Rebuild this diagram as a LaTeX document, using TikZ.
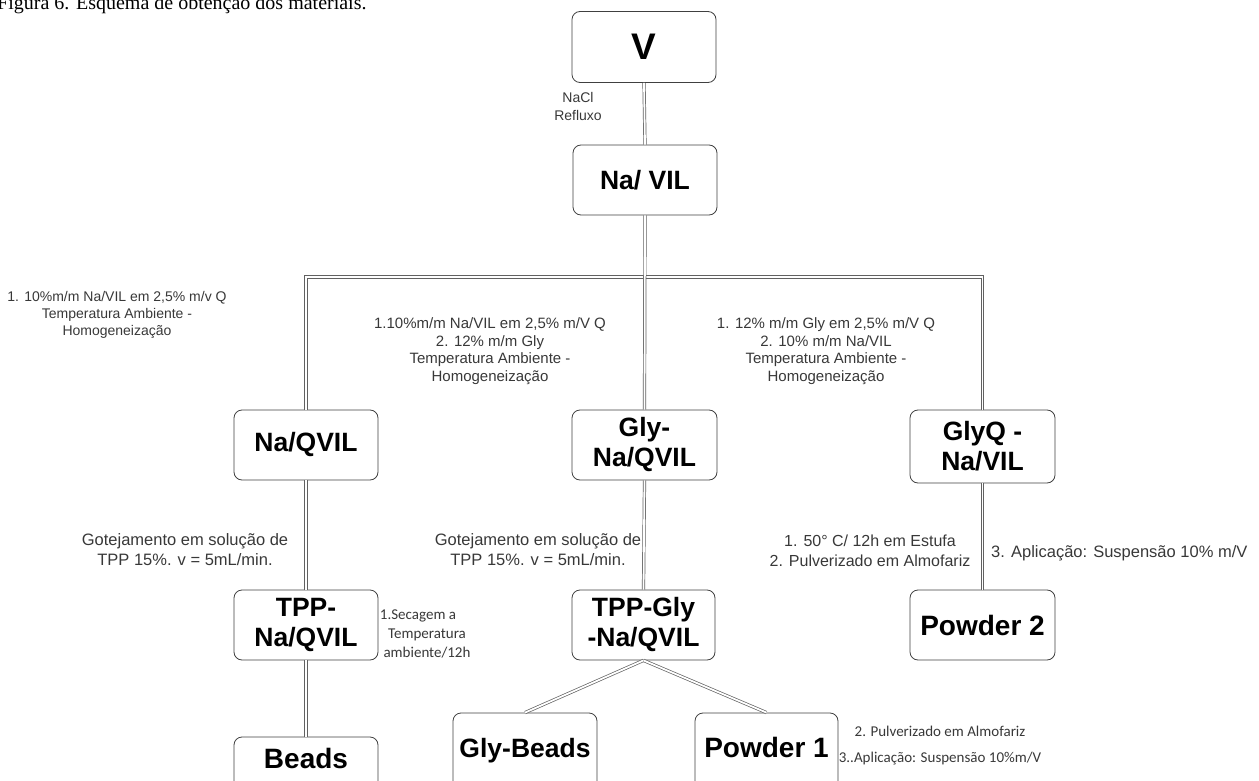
\documentclass[tikz,border=0pt]{standalone}
\usepackage{fontspec}
\setmainfont{Liberation Sans}
\newfontfamily\capfont{Liberation Serif}
\newfontfamily\calfont{Carlito}
\begin{document}
\begin{tikzpicture}[x=1pt,y=-1pt,
  box/.style={draw=black!75, line width=0.8pt, rounded corners=8pt, fill=white,
    font=\fontsize{26.5}{30}\selectfont\bfseries, align=center,
    minimum width=144pt, minimum height=70pt, inner sep=0pt},
  openbox/.style={box, minimum height=0pt, text height=31pt, text depth=45pt},
  lbl/.style={font=\fontsize{15}{17.5}\selectfont, text=black!78, align=center, inner sep=0pt},
  cal/.style={font=\calfont\fontsize{15}{19}\selectfont, text=black!78, align=center, inner sep=0pt},
  conn/.style={draw=black!62, line width=0.7pt, double=white, double distance=1.8pt}
]
\useasboundingbox (0,0) rectangle (1259,781);
\clip (0,0) rectangle (1259,781);

% caption (cut at top, as in the reference)
\node[anchor=base west, inner sep=0pt, font=\capfont\fontsize{20}{24}\selectfont] (cap) at (-3,10)
  {Figura 6. Esquema de obtenção dos materiais.};

% boxes
\node[box, minimum height=71pt, font=\fontsize{37}{40}\selectfont\bfseries] (v) at (644,47) {V};
\node[box] (navil) at (645,180) {Na/ VIL};
\node[box] (naq) at (306,445) {Na/QVIL};
\node[box, minimum width=145pt] (glynaq) at (644.5,445) {Gly-\\Na/QVIL};
\node[box, minimum width=145pt, minimum height=73pt] (glyq) at (982.5,446.5) {GlyQ -\\Na/VIL};
\node[box] (tppnaq) at (306,625) {TPP-\\Na/QVIL};
\node[box, minimum width=143pt] (tppgly) at (643.5,625) {TPP-Gly\\-Na/QVIL};
\node[box, minimum width=145pt, font=\fontsize{28}{30}\selectfont\bfseries] (powder2) at (982.5,625) {Powder 2};
\node[openbox, anchor=base, font=\fontsize{28}{30}\selectfont\bfseries] (beads) at (306,768) {Beads};
\node[openbox, anchor=base, text height=44pt] (glybeads) at (525,757) {Gly-Beads};
\node[openbox, anchor=base, text height=44pt, minimum width=143pt, font=\fontsize{28}{30}\selectfont\bfseries] (powder1) at (766.5,757) {Powder 1};

% connectors
\coordinate (bus) at (645,277);
\draw[conn] (v.south) -- (navil.north);
\draw[conn] (naq.north) |- (bus) -| (glyq.north);
\draw[conn] (navil.south) -- (glynaq.north);
\draw[conn] (naq.south) -- (tppnaq.north);
\draw[conn] (glynaq.south) -- (tppgly.north);
\draw[conn] (glyq.south) -- (powder2.north);
\draw[conn] (tppnaq.south) -- (beads.north);
\draw[conn] (tppgly.south) -- (glybeads.north);
\draw[conn] (tppgly.south) -- (powder1.north);

% labels
\node[lbl, font=\fontsize{14}{18}\selectfont] (l0) at (578,106) {NaCl\\Refluxo};
\node[lbl, font=\fontsize{14}{17}\selectfont] (l1) at (117,315) {1. 10\%m/m Na/VIL em 2,5\% m/v Q\\Temperatura Ambiente -\\Homogeneização};
\node[lbl] (l2) at (490,351) {1.10\%m/m Na/VIL em 2,5\% m/V Q\\2. 12\% m/m Gly\\Temperatura Ambiente -\\Homogeneização};
\node[lbl] (l3) at (826,351) {1. 12\% m/m Gly em 2,5\% m/V Q\\2. 10\% m/m Na/VIL\\Temperatura Ambiente -\\Homogeneização};
\node[lbl, font=\fontsize{16.5}{20}\selectfont] (l4) at (185,550) {Gotejamento em solução de\\TPP 15\%. v = 5mL/min.};
\node[lbl, font=\fontsize{16.5}{20}\selectfont] (l5) at (538,550) {Gotejamento em solução de\\TPP 15\%. v = 5mL/min.};
\node[lbl, font=\fontsize{16}{20}\selectfont] (l6) at (870,551) {1. 50° C/ 12h em Estufa\\2. Pulverizado em Almofariz};
\node[lbl, anchor=west, font=\fontsize{16.5}{20}\selectfont] (l7) at (991,553) {3. Aplicação: Suspensão 10\% m/V};
\node[cal] (l8) at (427,634) {1.Secagem a\hspace*{18pt}\\Temperatura\\ambiente/12h};
\node[cal, font=\calfont\fontsize{15}{26}\selectfont] (l9) at (940,746) {2. Pulverizado em Almofariz\\3..Aplicação: Suspensão 10\%m/V};
\end{tikzpicture}
\end{document}
